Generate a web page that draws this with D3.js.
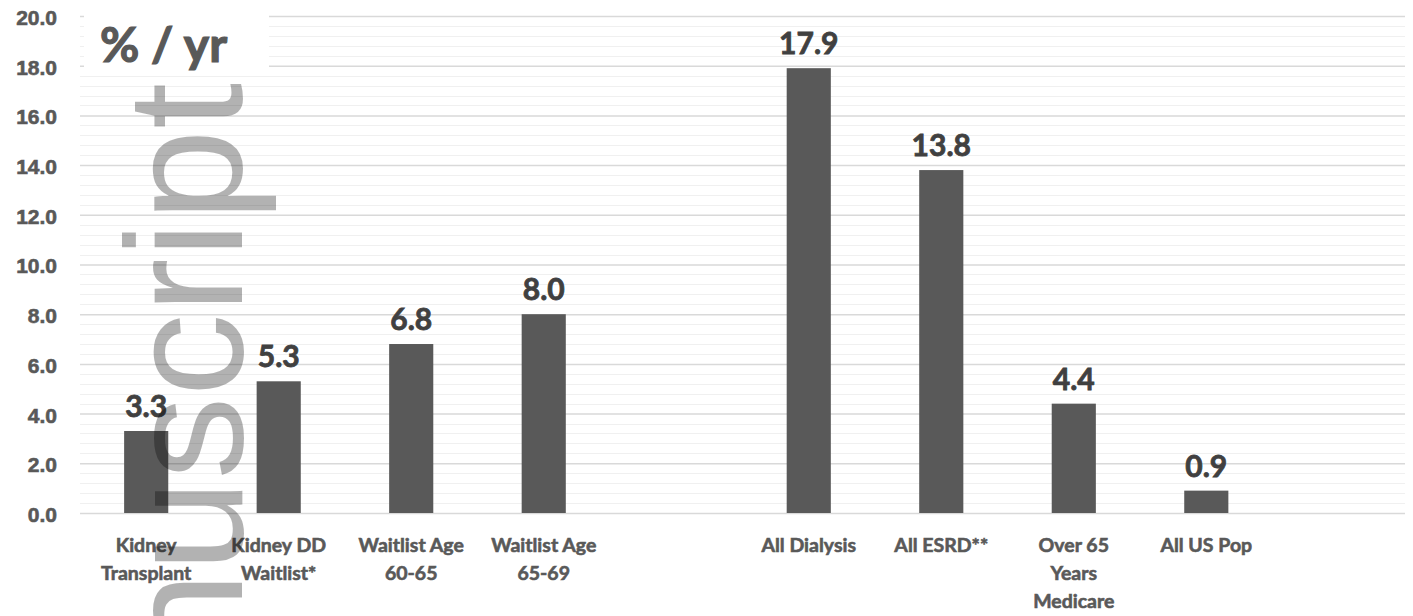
<!DOCTYPE html>
<html>
<head>
<meta charset="utf-8">
<script src="https://cdn.jsdelivr.net/npm/d3@7"></script>
<style>
  html, body { margin: 0; padding: 0; background: #fff; }
  svg { display: block; font-family: Lato, 'Noto Sans', sans-serif; }
</style>
</head>
<body>
<div id="chart"></div>
<script>
// Data (blank slots keep the gaps)
const categories = [
  'Kidney|Transplant', 'Kidney DD|Waitlist*', 'Waitlist Age|60-65', 'Waitlist Age|65-69', '',
  'All Dialysis', 'All ESRD**', 'Over 65|Years|Medicare', 'All US Pop', ''
];
const values = [3.3, 5.3, 6.8, 8.0, null, 17.9, 13.8, 4.4, 0.9, null];
const yTicks = [0, 2, 4, 6, 8, 10, 12, 14, 16, 18, 20];
const unitLabel = '% / yr';
const watermark = 'Manuscript';

const width = 1413;
const height = 616;
const margin = { top: 16, right: 8, bottom: 103, left: 80 };

const svg = d3.select('#chart').append('svg')
  .attr('width', width)
  .attr('height', height);

const x = d3.scaleBand()
  .domain(d3.range(categories.length))
  .range([margin.left, width - margin.right])
  .paddingInner(0.667)
  .paddingOuter(0.333);

const y = d3.scaleLinear()
  .domain([0, 20])
  .range([height - margin.bottom, margin.top]);

// Minor gridlines every 0.4
svg.append('g')
  .selectAll('line')
  .data(d3.range(0, 20.01, 0.4).filter(v => Math.abs(v / 2 - Math.round(v / 2)) > 0.01))
  .enter()
  .append('line')
  .attr('x1', margin.left)
  .attr('x2', width - margin.right)
  .attr('y1', d => Math.round(y(d)) + 0.5)
  .attr('y2', d => Math.round(y(d)) + 0.5)
  .attr('stroke', '#f0f0f0')
  .attr('stroke-width', 1.2);

// Major gridlines + tick labels via axis
const yAxis = svg.append('g')
  .attr('transform', `translate(${margin.left},0)`)
  .call(d3.axisLeft(y)
    .tickValues(yTicks)
    .tickSize(-(width - margin.left - margin.right))
    .tickPadding(23)
    .tickFormat(d3.format('.1f')));

yAxis.select('.domain').remove();
yAxis.selectAll('.tick line')
  .attr('stroke', '#d9d9d9')
  .attr('stroke-width', 1.5);
yAxis.selectAll('.tick text')
  .attr('fill', '#595959')
  .attr('stroke', '#595959')
  .attr('stroke-width', 0.6)
  .style('font-size', '21px')
  .style('font-weight', '700')
  .attr('dy', '0.4em');

// Bars
const barData = values.map((v, i) => ({ i, v })).filter(d => d.v != null);

svg.append('g')
  .selectAll('rect')
  .data(barData)
  .enter()
  .append('rect')
  .attr('x', d => x(d.i))
  .attr('y', d => y(d.v))
  .attr('width', x.bandwidth())
  .attr('height', d => y(0) - y(d.v))
  .attr('fill', '#595959');

// Value labels
svg.append('g')
  .selectAll('text')
  .data(barData)
  .enter()
  .append('text')
  .attr('x', d => x(d.i) + x.bandwidth() / 2)
  .attr('y', d => y(d.v) - 14)
  .attr('text-anchor', 'middle')
  .attr('fill', '#404040')
  .attr('stroke', '#404040')
  .attr('stroke-width', 0.8)
  .style('font-size', '30px')
  .style('font-weight', '700')
  .text(d => d.v.toFixed(1));

// Category labels (wrapped lines)
const catG = svg.append('g')
  .selectAll('text')
  .data(categories.map((c, i) => ({ i, lines: c ? c.split('|') : [] })))
  .enter()
  .append('text')
  .attr('text-anchor', 'middle')
  .attr('fill', '#595959')
  .attr('stroke', '#595959')
  .attr('stroke-width', 0.6)
  .style('font-size', '19.5px')
  .style('font-weight', '700');

catG.selectAll('tspan')
  .data(d => d.lines.map((t, k) => ({ t, k, i: d.i })))
  .enter()
  .append('tspan')
  .attr('x', d => x(d.i) + x.bandwidth() / 2)
  .attr('y', d => 552 + d.k * 28)
  .text(d => d.t);

// Unit label on a white box
svg.append('rect')
  .attr('x', 84)
  .attr('y', 8)
  .attr('width', 185)
  .attr('height', 62)
  .attr('fill', '#fff');

svg.append('text')
  .attr('x', 100)
  .attr('y', 62)
  .attr('fill', '#595959')
  .attr('stroke', '#595959')
  .attr('stroke-width', 1.2)
  .style('font-size', '48px')
  .style('font-weight', '700')
  .text(unitLabel);

// Watermark, rotated, semi-transparent
svg.append('text')
  .attr('transform', 'translate(242,83) rotate(-90)')
  .attr('text-anchor', 'end')
  .attr('fill', '#000')
  .attr('fill-opacity', 0.3)
  .style('font-family', "'Liberation Sans', Arial, sans-serif")
  .style('font-size', '166px')
  .text(watermark);
</script>
</body>
</html>
